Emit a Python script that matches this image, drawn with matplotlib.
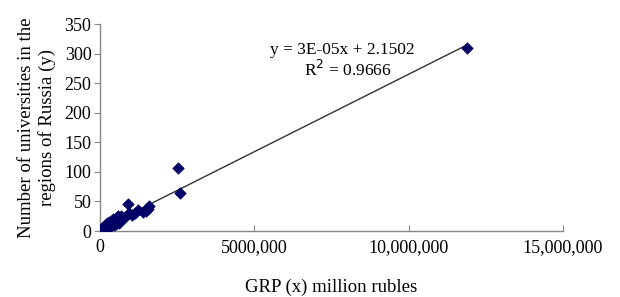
import numpy as np
import matplotlib
matplotlib.use("Agg")
import matplotlib.pyplot as plt

# GRP (million rubles) and number of universities per region
grp = [11900000, 2530000, 2600000, 1550000, 1600000, 1480000, 1400000, 900000,
       950000, 1050000, 1150000, 1250000, 820000, 760000, 700000, 650000,
       600000, 560000, 520000, 480000, 450000, 420000, 400000, 380000,
       350000, 330000, 310000, 290000, 270000, 250000, 230000, 210000,
       200000, 190000, 180000, 170000, 160000, 150000, 140000, 130000,
       120000, 110000, 100000, 90000, 80000, 70000, 60000, 50000,
       40000, 30000, 25000, 20000, 15000, 10000, 620000, 540000,
       460000, 360000, 280000, 240000, 220000, 170000, 140000, 110000,
       85000, 65000, 45000, 35000, 300000, 430000, 500000, 680000]
univ = [310, 106, 64, 38, 42, 34, 33, 45,
        30, 28, 31, 36, 24, 22, 20, 19,
        25, 16, 22, 14, 18, 12, 17, 13,
        15, 11, 14, 10, 12, 9, 10, 8,
        11, 7, 9, 6, 8, 6, 7, 5,
        6, 4, 5, 4, 3, 3, 2, 2,
        2, 1, 1, 1, 0, 0, 14, 12,
        10, 9, 8, 7, 13, 6, 9, 5,
        4, 3, 2, 3, 16, 20, 19, 26]

x_ticks = [0, 5000000, 10000000, 15000000]
x_tick_labels = ["0", "5000,000", "10,000,000", "15,000,000"]
y_ticks = [0, 50, 100, 150, 200, 250, 300, 350]

plt.rcParams['font.family'] = ['Liberation Serif', 'DejaVu Serif']

fig = plt.figure(figsize=(6.2, 2.97), dpi=100)
ax = fig.add_axes([0.161, 0.222, 0.747, 0.697])

# trend line from a least-squares fit
slope, intercept = np.polyfit(grp, univ, 1)
xs = np.array([0, max(grp)])
ax.plot(xs, slope * xs + intercept, color='#333333', linewidth=1.0, zorder=2)

ax.scatter(grp, univ, marker='D', s=34, color='#000066', edgecolors='#000066',
           linewidths=0.5, zorder=3)

ax.text(0.523, 0.875, "y = 3E-05x + 2.1502", transform=ax.transAxes,
        ha='center', va='center', fontsize=12.5)
ax.text(0.535, 0.78, "R$^2$ = 0.9666", transform=ax.transAxes,
        ha='center', va='center', fontsize=12.5)

ax.set_xlim(0, 15000000)
ax.set_ylim(0, 350)
ax.set_xticks(x_ticks)
ax.set_xticklabels(x_tick_labels)
ax.set_yticks(y_ticks)
ax.tick_params(axis='x', direction='in', length=4, color='#888888', labelsize=13, pad=6)
ax.tick_params(axis='y', direction='out', length=4, color='#888888', labelsize=13, pad=2)

for side in ['top', 'right']:
    ax.spines[side].set_visible(False)
for side in ['left', 'bottom']:
    ax.spines[side].set_color('#888888')
    ax.spines[side].set_linewidth(1.0)

ax.set_xlabel("GRP (x) million rubles", fontsize=13.5, labelpad=16)
ax.set_ylabel("Number of universities in the\nregions of Russia (y)", fontsize=13.5,
              labelpad=6, linespacing=1.2)

fig.savefig("out.png", dpi=100)
